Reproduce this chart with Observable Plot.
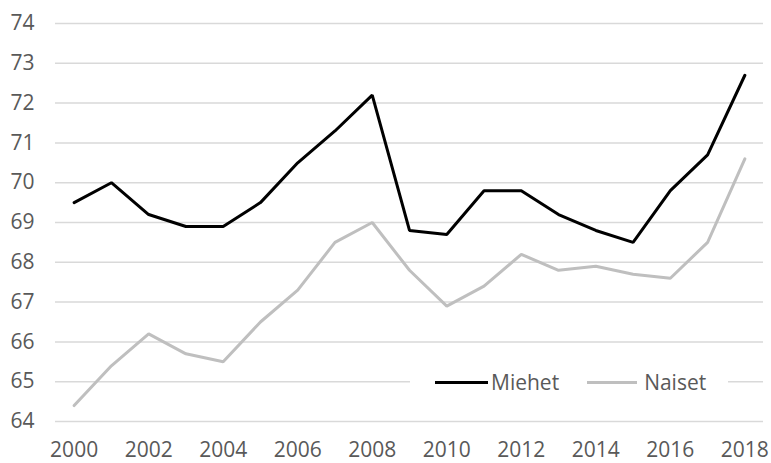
<!DOCTYPE html>
<html>
<head>
<meta charset="utf-8">
<script src="https://cdn.jsdelivr.net/npm/d3@7"></script>
<script src="https://cdn.jsdelivr.net/npm/@observablehq/plot@0.6"></script>
<style>
  html, body { margin: 0; padding: 0; background: #fff; }
  #wrap { position: relative; width: 771px; height: 463px; font-family: "Open Sans", sans-serif; }
  #legend { position: absolute; left: 410px; top: 368px; width: 318px; height: 28px; background: #fff;
            display: flex; align-items: center; font-size: 21px; color: #595959; }
  .sw { display: inline-block; height: 3px; }
</style>
</head>
<body>
<div id="wrap"></div>
<script>
const years  = [2000,2001,2002,2003,2004,2005,2006,2007,2008,2009,2010,2011,2012,2013,2014,2015,2016,2017,2018];
const miehet = [69.5,70.0,69.2,68.9,68.9,69.5,70.5,71.3,72.2,68.8,68.7,69.8,69.8,69.2,68.8,68.5,69.8,70.7,72.7];
const naiset = [64.4,65.4,66.2,65.7,65.5,66.5,67.3,68.5,69.0,67.8,66.9,67.4,68.2,67.8,67.9,67.7,67.6,68.5,70.6];
const seriesNames = ["Miehet", "Naiset"];
const seriesColors = ["#000000", "#bfbfbf"];
const yTicks = [64,65,66,67,68,69,70,71,72,73,74];
const xTicks = [2000,2002,2004,2006,2008,2010,2012,2014,2016,2018];

const rows = [];
years.forEach((y, i) => {
  rows.push({year: y, value: miehet[i], series: seriesNames[0]});
  rows.push({year: y, value: naiset[i], series: seriesNames[1]});
});

const chart = Plot.plot({
  width: 771,
  height: 463,
  marginLeft: 55,
  marginRight: 8,
  marginTop: 23,
  marginBottom: 42,
  style: {fontFamily: "Open Sans, sans-serif", fontSize: "21px", color: "#595959", background: "#fff"},
  x: {domain: [1999.5, 2018.5]},
  y: {domain: [64, 74]},
  color: {domain: seriesNames, range: seriesColors},
  marks: [
    Plot.ruleY(yTicks, {stroke: "#d9d9d9", strokeWidth: 1.5}),
    Plot.axisY({ticks: yTicks, tickSize: 0, tickPadding: 21, label: null}),
    Plot.axisX({ticks: xTicks, tickSize: 0, tickPadding: 21, tickFormat: d => String(d), label: null}),
    Plot.line(rows.filter(d => d.series === "Naiset"), {x: "year", y: "value", stroke: "series", strokeWidth: 3, strokeLinejoin: "miter"}),
    Plot.line(rows.filter(d => d.series === "Miehet"), {x: "year", y: "value", stroke: "series", strokeWidth: 3, strokeLinejoin: "miter"})
  ]
});

const wrap = document.getElementById("wrap");
wrap.appendChild(chart);

const legend = document.createElement("div");
legend.id = "legend";
seriesNames.forEach((name, i) => {
  const sw = document.createElement("span");
  sw.className = "sw";
  sw.style.background = seriesColors[i];
  sw.style.width = i === 0 ? "53px" : "50px";
  sw.style.marginLeft = i === 0 ? "25px" : "28px";
  sw.style.marginRight = i === 0 ? "3px" : "7px";
  const t = document.createElement("span");
  t.textContent = name;
  legend.appendChild(sw);
  legend.appendChild(t);
});
wrap.appendChild(legend);
</script>
</body>
</html>
